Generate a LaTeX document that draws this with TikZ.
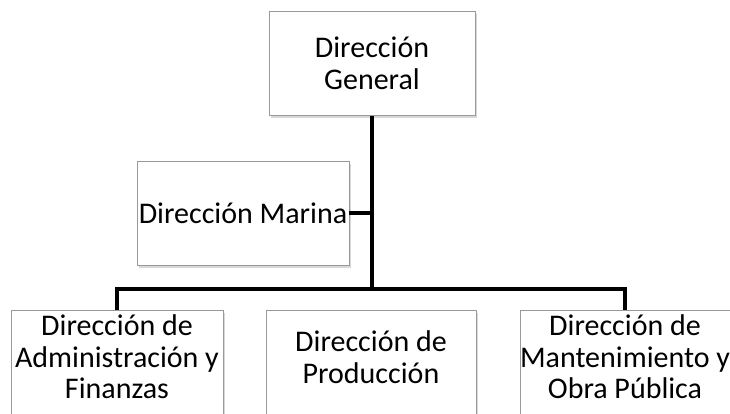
\documentclass[tikz,border=0pt]{standalone}
\usepackage{fontspec}
\setmainfont{Carlito}
\usetikzlibrary{shadows}
\begin{document}
\begin{tikzpicture}[x=1pt,y=1pt,
  box/.style={draw=black!40, line width=0.9pt, fill=white, rectangle,
    minimum width=210pt, minimum height=104pt, inner sep=0pt, align=center,
    font=\fontsize{30}{31.5}\selectfont,
    drop shadow={shadow xshift=2pt, shadow yshift=-3pt, fill=black!30, opacity=0.5}},
  lbl/.style={align=center, inner sep=0pt, font=\fontsize{30}{31.5}\selectfont},
  conn/.style={line width=4.6pt, black, line join=miter}]
\useasboundingbox (0,0) rectangle (730,413);
\clip (0,0) rectangle (730,413);
\node[box, minimum width=206pt] (top) at (372,349.5) {Dirección\\General};
\node[box, minimum width=212pt] (marina) at (243,200) {Dirección Marina};
\node[box, minimum width=212pt] (adm) at (117,51) {};
\node[box] (prod) at (371,51) {};
\node[box] (mant) at (625,51) {};
\node[lbl] (admt) at ([yshift=5pt]adm.center) {Dirección de\\Administración y\\Finanzas};
\node[lbl] (prodt) at ([yshift=5pt]prod.center) {Dirección de\\Producción};
\node[lbl] (mantt) at ([yshift=5pt]mant.center) {Dirección de\\Mantenimiento y\\Obra Pública};
\coordinate (j) at (372,124);
\draw[conn] (top.south) -- (top.south |- j);
\draw[conn] (marina.east) -- (marina.east -| top.south);
\draw[conn] (adm.north) |- (j) -| (mant.north);
\end{tikzpicture}
\end{document}
